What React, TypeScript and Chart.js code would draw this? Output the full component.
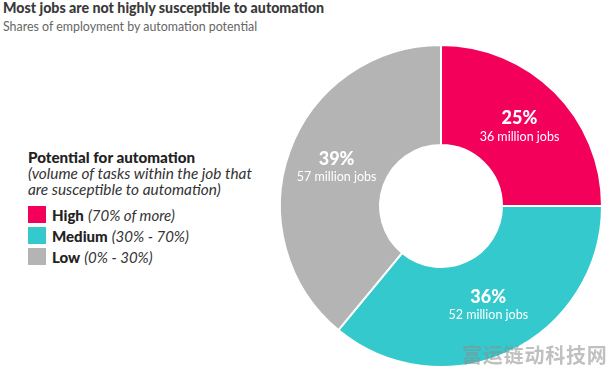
import React, { useEffect, useRef } from "react";
import { Chart, registerables } from "chart.js";

Chart.register(...registerables);

const categories = ["High", "Medium", "Low"];
const categoryRanges = ["(70% of more)", "(30% - 70%)", "(0% - 30%)"];
const shares = [25, 36, 39];
const jobsMillions = [36, 52, 57];
const colors = ["#F3005B", "#33C9CD", "#B4B4B4"];

const FONT = "Lato, 'Open Sans', sans-serif";

const labelPlugin = {
  id: "sliceLabels",
  afterDatasetsDraw(chart: any) {
    const { ctx } = chart;
    const meta = chart.getDatasetMeta(0);
    meta.data.forEach((arc: any, i: number) => {
      const p = arc.getProps(["x", "y", "startAngle", "endAngle", "innerRadius", "outerRadius"], true);
      const mid = (p.startAngle + p.endAngle) / 2;
      const r = (p.innerRadius + p.outerRadius) / 2;
      const cx = p.x + Math.cos(mid) * r;
      const cy = p.y + Math.sin(mid) * r;
      ctx.save();
      ctx.fillStyle = "#ffffff";
      ctx.textAlign = "center";
      ctx.textBaseline = "middle";
      ctx.font = `900 18px ${FONT}`;
      ctx.fillText(`${shares[i]}%`, cx, cy - 9);
      ctx.font = `400 12.5px ${FONT}`;
      ctx.fillText(`${jobsMillions[i]} million jobs`, cx, cy + 9);
      ctx.restore();
    });
  },
};

export default function App() {
  const ref = useRef<HTMLCanvasElement | null>(null);
  useEffect(() => {
    document.body.style.margin = "0";
    const chart = new Chart(ref.current as HTMLCanvasElement, {
      type: "doughnut",
      data: {
        labels: categories,
        datasets: [
          {
            data: shares,
            backgroundColor: colors,
            borderColor: "#ffffff",
            borderWidth: 2,
          },
        ],
      },
      options: {
        animation: false,
        responsive: false,
        radius: 161,
        cutout: 64,
        layout: { padding: 0 },
        plugins: { legend: { display: false }, tooltip: { enabled: false } },
      } as any,
      plugins: [labelPlugin],
    });
    return () => chart.destroy();
  }, []);

  return (
    <div style={{ position: "fixed", left: 0, top: 0, width: 613, height: 375, background: "#fff", overflow: "hidden", fontFamily: FONT }}>
      <canvas ref={ref} width={340} height={340} style={{ position: "absolute", left: 271, top: 36, width: 340, height: 340 }} />
      <div style={{ position: "absolute", left: 3, top: 0, fontSize: 14.2, fontWeight: 900, color: "#3a3a3a", whiteSpace: "nowrap", lineHeight: "16px" }}>
        Most jobs are not highly susceptible to automation
      </div>
      <div style={{ position: "absolute", left: 3, top: 19, fontSize: 12.4, color: "#666", whiteSpace: "nowrap", lineHeight: "16px" }}>
        Shares of employment by automation potential
      </div>
      <div style={{ position: "absolute", left: 28, top: 149, color: "#222", whiteSpace: "nowrap" }}>
        <div style={{ fontSize: 15.2, fontWeight: 900, lineHeight: "16px" }}>Potential for automation</div>
        <div style={{ fontSize: 15.4, fontStyle: "italic", lineHeight: "16px", color: "#333" }}>(volume of tasks within the job that</div>
        <div style={{ fontSize: 15.4, fontStyle: "italic", lineHeight: "16px", color: "#333" }}>are susceptible to automation)</div>
        <div style={{ height: 7 }} />
        {categories.map((c, i) => (
          <div key={c} style={{ display: "flex", alignItems: "center", height: 21 }}>
            <div style={{ width: 18, height: 17, background: colors[i], marginRight: 6 }} />
            <span style={{ fontSize: 15, fontWeight: 900, color: "#222" }}>{c}</span>
            <span style={{ fontSize: 15, fontStyle: "italic", color: "#333", marginLeft: 4 }}>{categoryRanges[i]}</span>
          </div>
        ))}
      </div>
      <div style={{ position: "absolute", left: 462, top: 340, fontFamily: "'Noto Sans CJK SC', sans-serif", fontSize: 20, fontWeight: 700, color: "rgba(140,140,140,0.55)", whiteSpace: "nowrap", letterSpacing: 0.8 }}>
        富运链动科技网
      </div>
    </div>
  );
}
